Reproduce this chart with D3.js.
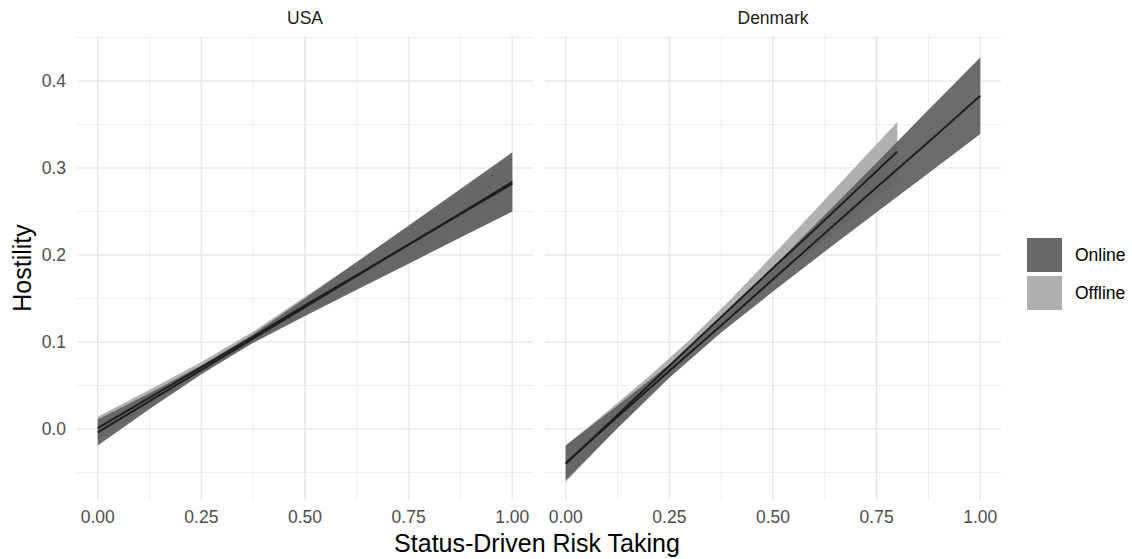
<!DOCTYPE html>
<html>
<head>
<meta charset="utf-8">
<script src="https://cdn.jsdelivr.net/npm/d3@7"></script>
<style>
  body { margin: 0; background: white; }
  text { font-family: "Liberation Sans", Arial, sans-serif; }
  .tick_label { fill: #4d4d4d; font-size: 17.5px; }
  .strip_label { fill: #1a1a1a; font-size: 17.5px; }
  .axis_title { fill: black; font-size: 25px; }
  .legend_label { fill: black; font-size: 17.5px; }
</style>
</head>
<body>
<div id="paper"></div>
<script>

// chart values.

const panels = ["USA", "Denmark"]
const groups = ["Online", "Offline"]

const x_ticks = [0, 0.25, 0.5, 0.75, 1]
const x_tick_labels = ["0.00", "0.25", "0.50", "0.75", "1.00"]
const y_ticks = [0, 0.1, 0.2, 0.3, 0.4]
const y_tick_labels = ["0.0", "0.1", "0.2", "0.3", "0.4"]

// USA, online

const usa_online_x = [0, 0.125, 0.25, 0.375, 0.5, 0.625, 0.75, 0.875, 1]
const usa_online_fit = [-0.004, 0.032, 0.068, 0.104, 0.140, 0.176, 0.212, 0.248, 0.284]
const usa_online_lower = [-0.019, 0.023, 0.063, 0.099, 0.130, 0.160, 0.190, 0.220, 0.250]
const usa_online_upper = [0.011, 0.041, 0.073, 0.109, 0.150, 0.192, 0.234, 0.276, 0.318]

// USA, offline

const usa_offline_x = [0, 0.125, 0.25, 0.375, 0.5, 0.625, 0.75, 0.875, 1]
const usa_offline_fit = [0.001, 0.036, 0.071, 0.106, 0.142, 0.177, 0.212, 0.247, 0.282]
const usa_offline_lower = [-0.012, 0.027, 0.065, 0.100, 0.132, 0.162, 0.192, 0.222, 0.252]
const usa_offline_upper = [0.014, 0.045, 0.077, 0.112, 0.152, 0.192, 0.232, 0.272, 0.312]

// Denmark, online

const dk_online_x = [0, 0.125, 0.25, 0.375, 0.5, 0.625, 0.75, 0.875, 1]
const dk_online_fit = [-0.039, 0.014, 0.067, 0.119, 0.172, 0.225, 0.278, 0.330, 0.383]
const dk_online_lower = [-0.059, 0.001, 0.059, 0.111, 0.158, 0.204, 0.249, 0.294, 0.339]
const dk_online_upper = [-0.019, 0.027, 0.074, 0.127, 0.186, 0.246, 0.306, 0.367, 0.427]

// Denmark, offline (stops at 0.8)

const dk_offline_x = [0, 0.1, 0.2, 0.3, 0.4, 0.5, 0.6, 0.7, 0.8]
const dk_offline_fit = [-0.040, 0.005, 0.050, 0.095, 0.140, 0.185, 0.229, 0.274, 0.319]
const dk_offline_lower = [-0.061, -0.011, 0.039, 0.087, 0.130, 0.169, 0.208, 0.247, 0.285]
const dk_offline_upper = [-0.019, 0.020, 0.060, 0.103, 0.150, 0.200, 0.251, 0.302, 0.353]

// build rows for each panel / group.

function rows(xs, fit, lower, upper) {
    return xs.map((x, i) => ({ x: x, fit: fit[i], lower: lower[i], upper: upper[i] }))
}

const series = {
    USA: {
        Online: rows(usa_online_x, usa_online_fit, usa_online_lower, usa_online_upper),
        Offline: rows(usa_offline_x, usa_offline_fit, usa_offline_lower, usa_offline_upper)
    },
    Denmark: {
        Online: rows(dk_online_x, dk_online_fit, dk_online_lower, dk_online_upper),
        Offline: rows(dk_offline_x, dk_offline_fit, dk_offline_lower, dk_offline_upper)
    }
}

const band_fill = { Online: "#606060", Offline: "#b0b0b0" }
const band_opacity = { Online: 0.93, Offline: 1 }
const key_fill = { Online: "#686868", Offline: "#b0b0b0" }

// svg canvas.

const width = 1132
const height = 559

const svg = d3.select("#paper")
    .append("svg")
    .attr("id", "canvas")
    .attr("width", width)
    .attr("height", height)

const panel_top = 36
const panel_bottom = 500
const panel_left = { USA: 77, Denmark: 545 }
const panel_width = 456

let y = d3.scaleLinear().domain([0, 0.4]).range([429, 81])
let y_minor = [-0.05, 0.05, 0.15, 0.25, 0.35, 0.45]
let x_minor = [0.125, 0.375, 0.625, 0.875]

// draw each facet.

panels.forEach(function(p) {

    let x = d3.scaleLinear()
        .domain([-0.05, 1.05])
        .range([panel_left[p], panel_left[p] + panel_width])

    let g = svg.append("g").attr("class", "panel")

    // grid, minor then major.

    g.selectAll(".grid_minor_y")
        .data(y_minor)
        .join("line")
        .attr("x1", x.range()[0]).attr("x2", x.range()[1])
        .attr("y1", d => y(d)).attr("y2", d => y(d))
        .style("stroke", "#eeeeee").style("stroke-width", 1)

    g.selectAll(".grid_minor_x")
        .data(x_minor)
        .join("line")
        .attr("x1", d => x(d)).attr("x2", d => x(d))
        .attr("y1", panel_top).attr("y2", panel_bottom)
        .style("stroke", "#eeeeee").style("stroke-width", 1)

    g.selectAll(".grid_major_y")
        .data(y_ticks)
        .join("line")
        .attr("x1", x.range()[0]).attr("x2", x.range()[1])
        .attr("y1", d => y(d)).attr("y2", d => y(d))
        .style("stroke", "#e8e8e8").style("stroke-width", 1.6)

    g.selectAll(".grid_major_x")
        .data(x_ticks)
        .join("line")
        .attr("x1", d => x(d)).attr("x2", d => x(d))
        .attr("y1", panel_top).attr("y2", panel_bottom)
        .style("stroke", "#e8e8e8").style("stroke-width", 1.6)

    // bands: offline underneath, online on top.

    let area = d3.area()
        .x(d => x(d.x))
        .y0(d => y(d.lower))
        .y1(d => y(d.upper))

    let line = d3.line()
        .x(d => x(d.x))
        .y(d => y(d.fit))

    let order = ["Offline", "Online"]

    order.forEach(function(grp) {
        g.append("path")
            .datum(series[p][grp])
            .attr("d", area)
            .style("fill", band_fill[grp])
            .style("fill-opacity", band_opacity[grp])
    })

    order.forEach(function(grp) {
        g.append("path")
            .datum(series[p][grp])
            .attr("d", line)
            .style("fill", "none")
            .style("stroke", "#1f1f1f")
            .style("stroke-width", 2)
    })

    // x tick labels.

    g.selectAll(".x_label")
        .data(x_ticks)
        .join("text")
        .attr("class", "tick_label")
        .attr("x", d => x(d))
        .attr("y", 523)
        .attr("text-anchor", "middle")
        .text((d, i) => x_tick_labels[i])

    // strip label.

    g.append("text")
        .attr("class", "strip_label")
        .attr("x", panel_left[p] + panel_width / 2)
        .attr("y", 24)
        .attr("text-anchor", "middle")
        .text(p)
})

// y tick labels, left panel only.

svg.selectAll(".y_label")
    .data(y_ticks)
    .join("text")
    .attr("class", "tick_label")
    .attr("x", 66)
    .attr("y", d => y(d))
    .attr("dy", "0.36em")
    .attr("text-anchor", "end")
    .text((d, i) => y_tick_labels[i])

// axis titles.

svg.append("text")
    .attr("class", "axis_title")
    .attr("x", 537)
    .attr("y", 552)
    .attr("text-anchor", "middle")
    .text("Status-Driven Risk Taking")

svg.append("text")
    .attr("class", "axis_title")
    .attr("transform", "translate(31, 268) rotate(-90)")
    .attr("text-anchor", "middle")
    .text("Hostility")

// legend.

let legend = svg.append("g").attr("class", "legend")

legend.selectAll(".key")
    .data(groups)
    .join("rect")
    .attr("x", 1027)
    .attr("y", (d, i) => 238 + i * 38)
    .attr("width", 35)
    .attr("height", 34)
    .style("fill", d => key_fill[d])

legend.selectAll(".legend_label")
    .data(groups)
    .join("text")
    .attr("class", "legend_label")
    .attr("x", 1075)
    .attr("y", (d, i) => 255 + i * 38)
    .attr("dy", "0.36em")
    .text(d => d)

</script>
</body>
</html>
